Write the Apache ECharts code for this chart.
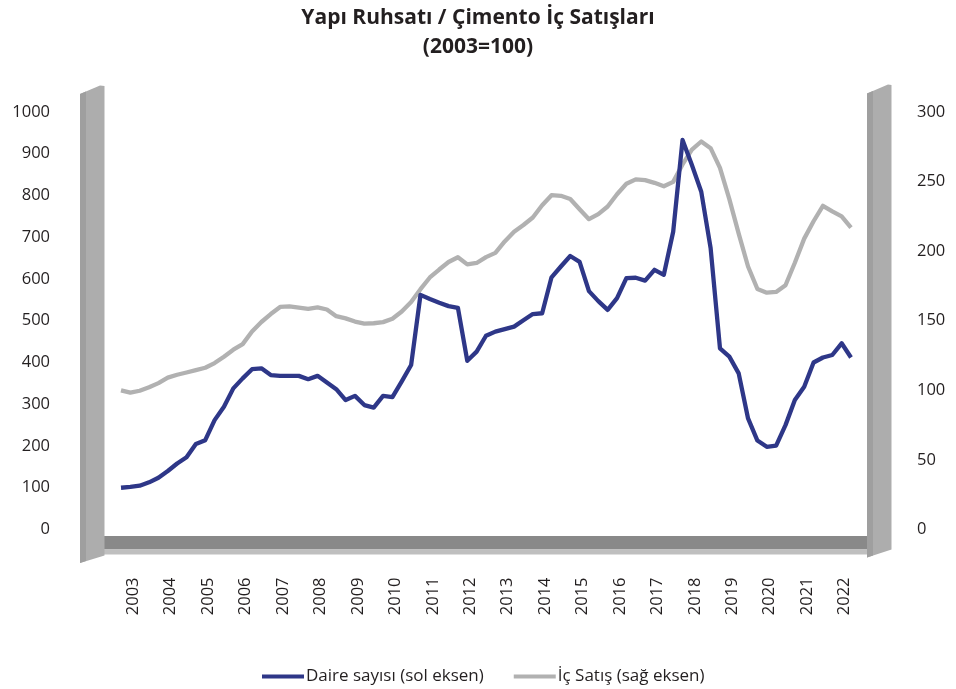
<!DOCTYPE html>
<html><head><meta charset="utf-8">
<script src="https://cdn.jsdelivr.net/npm/echarts/dist/echarts.min.js"></script>
<style>html,body{margin:0;padding:0;background:#fff}#c{width:956px;height:689px}</style>
</head><body><div id="c"></div>
<script>
// --- data ---
const years = ['2003','2004','2005','2006','2007','2008','2009','2010','2011','2012',
               '2013','2014','2015','2016','2017','2018','2019','2020','2021','2022'];
const quarterNames = ['Ç1','Ç2','Ç3','Ç4'];
const quarters = [];
years.forEach(y => quarterNames.forEach(q => quarters.push(y + ' ' + q)));
quarters.length = 79; // 2003 Ç1 .. 2022 Ç3

// Daire sayısı (sol eksen), 2003=100
const daireSayisi = [
  100,102,105,113, 124,140,158,173, 205,214,262,294, 338,362,384,386,
  370,368,368,368, 360,368,352,336, 310,320,298,292, 320,317,355,394,
  562,552,543,535, 531,404,426,464, 474,480,486,501, 516,518,604,630,
  655,641,571,547, 526,554,602,603, 596,622,610,713, 933,873,809,674,
  434,414,374,266, 213,198,201,250, 310,342,400,412, 418,446,412
];
// İç Satış (sağ eksen), 2003=100
const icSatis = [
  100,98.3,99.7,102.2, 105.2,109.1,111.2,112.8, 114.5,116.2,119.6,124.2, 129.2,133.2,142.3,149.1,
  154.8,159.9,160.3,159.4, 158.6,159.6,158.1,153.3, 151.7,149.4,147.9,148.2, 149.0,151.4,156.6,163.4,
  172.7,181.1,186.8,192.2, 195.6,190.5,191.5,195.7, 198.8,207.0,214.0,218.8, 224.2,233.0,240.2,239.8,
  237.5,230.1,223.0,226.6, 232.1,240.9,248.4,251.6, 251.0,249.1,246.6,249.8, 262.3,272.9,278.8,274.0,
  259.8,237.4,212.6,189.0, 172.8,170.2,170.7,175.5, 191.7,209.0,221.5,232.6, 228.6,225.0,216.9
];
const leftAxis = {min: 0, max: 1000, interval: 100};
const rightAxis = {min: 0, max: 300, interval: 50};
const seriesNames = ['Daire sayısı (sol eksen)', 'İç Satış (sağ eksen)'];
const titleText = 'Yapı Ruhsatı / Çimento İç Satışları\n(2003=100)';

// --- chart ---
const FONT = '"Open Sans", sans-serif';
const BLUE = '#2e3788';
const GRAY = '#b1b1b1';
const TXT = '#231f20';
const WALL = '#adadad', WALL_SIDE = '#9f9f9f';
const chart = echarts.init(document.getElementById('c'), null, {renderer: 'canvas'});
chart.setOption({
  animation: false,
  backgroundColor: '#fff',
  title: {
    text: titleText, left: 'center', top: -1,
    textStyle: {fontFamily: FONT, fontSize: 21, fontWeight: 'bold', color: TXT, lineHeight: 29}
  },
  grid: {left: 121, right: 105, top: 112, bottom: 159.5, containLabel: false, outerBoundsMode: 'none'},
  legend: {
    data: seriesNames, left: 257, top: 663,
    icon: 'rect', itemWidth: 42, itemHeight: 4, itemGap: 30,
    textStyle: {fontFamily: FONT, fontSize: 17, color: TXT, padding: [0,0,0,-3]}
  },
  xAxis: {
    type: 'category', data: quarters, boundaryGap: false,
    axisLine: {show: false}, axisTick: {show: false}, splitLine: {show: false},
    axisLabel: {
      rotate: 90, margin: 48, interval: (idx) => idx % 4 === 1,
      formatter: (v) => v.slice(0, 4), verticalAlign: 'top', lineHeight: 6,
      fontFamily: FONT, fontSize: 16.5, color: TXT, hideOverlap: false
    }
  },
  yAxis: [
    {type: 'value', position: 'left', min: leftAxis.min, max: leftAxis.max, interval: leftAxis.interval,
     axisLine: {show: false}, axisTick: {show: false}, splitLine: {show: false},
     axisLabel: {margin: 71, fontFamily: FONT, fontSize: 16.5, color: TXT, formatter: (v) => String(v)}},
    {type: 'value', position: 'right', min: rightAxis.min, max: rightAxis.max, interval: rightAxis.interval,
     axisLine: {show: false}, axisTick: {show: false}, splitLine: {show: false},
     axisLabel: {margin: 66, fontFamily: FONT, fontSize: 16.5, color: TXT, formatter: (v) => String(v)}}
  ],
  series: [
    {name: seriesNames[0], type: 'line', data: daireSayisi, yAxisIndex: 0, z: 4,
     symbol: 'none', lineStyle: {color: BLUE, width: 4.3, join: 'round'}, itemStyle: {color: BLUE}},
    {name: seriesNames[1], type: 'line', data: icSatis, yAxisIndex: 1, z: 3,
     symbol: 'none', lineStyle: {color: GRAY, width: 4.3, join: 'round'}, itemStyle: {color: GRAY}}
  ],
  graphic: [
    // floor
    {type: 'rect', z: 0, shape: {x: 104, y: 536, width: 764, height: 13.5}, style: {fill: '#898989'}},
    {type: 'rect', z: 0, shape: {x: 104, y: 549.5, width: 764, height: 5}, style: {fill: '#bfbfbf'}},
    // left wall
    {type: 'polygon', z: 1, shape: {points: [[80,94],[100,85.5],[104.5,86],[104.5,555.5],[80,563]]}, style: {fill: WALL}},
    {type: 'polygon', z: 1, shape: {points: [[80,94],[86,91.5],[86,561],[80,563]]}, style: {fill: WALL_SIDE}},
    // right wall
    {type: 'polygon', z: 1, shape: {points: [[867,93.5],[888,84.5],[891.5,85],[891.5,549.5],[867,557.5]]}, style: {fill: WALL}},
    {type: 'polygon', z: 1, shape: {points: [[867,93.5],[873,91],[873,555.5],[867,557.5]]}, style: {fill: WALL_SIDE}}
  ]
});
</script></body></html>
